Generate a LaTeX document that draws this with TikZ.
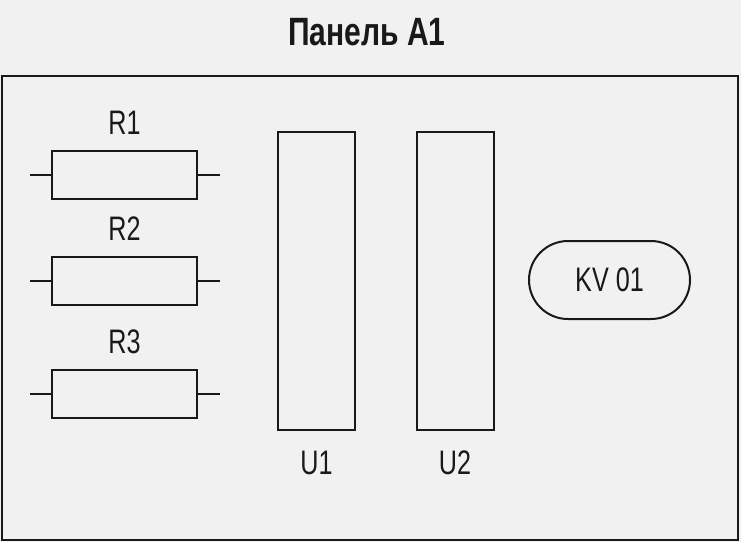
\documentclass[tikz,border=0pt]{standalone}
\usepackage{fontspec}
\setmainfont[FakeStretch=0.74]{Liberation Sans}
\newfontfamily\titlefont[FakeStretch=0.76]{Liberation Sans}
\usetikzlibrary{positioning}

\definecolor{paper}{RGB}{241,241,241}
\definecolor{ink}{RGB}{25,25,25}

\tikzset{
  resbox/.style={draw=ink, line width=2pt, minimum width=145pt, minimum height=48pt, inner sep=0pt},
  unitbox/.style={draw=ink, line width=2pt, minimum width=77pt, minimum height=298pt, inner sep=0pt},
  relay/.style={draw=ink, line width=2pt, rounded corners=39pt, minimum width=161pt, minimum height=78pt, inner sep=0pt},
  lbl/.style={text=ink, inner sep=0pt, font=\fontsize{34}{40}\selectfont},
  lead/.style={draw=ink, line width=2pt}
}

\begin{document}
\begin{tikzpicture}[x=1pt,y=-1pt]
\fill[paper] (0,0) rectangle (741,542);
\useasboundingbox (0,0) rectangle (741,542);

% panel frame and title
\draw[ink, line width=2pt] (2,76) rectangle (738,540);
\node[text=ink, inner sep=0pt, font=\titlefont\bfseries\fontsize{39.5}{46}\selectfont] (title) at (367,32.5) {Панель А1};

% resistors
\foreach \n/\y in {1/175,2/281,3/394}{
  \node[resbox] (r\n) at (124.5,\y) {};
  \coordinate (r\n-a) at ([xshift=-21pt]r\n.west);
  \coordinate (r\n-b) at ([xshift=22pt]r\n.east);
  \draw[lead] (r\n-a) -- (r\n.west);
  \draw[lead] (r\n.east) -- (r\n-b);
  \node[lbl, above=15pt of r\n] (r\n-lbl) {R\n};
}

% units
\node[unitbox] (u1) at (316.5,281) {};
\node[unitbox] (u2) at (455,281) {};
\node[lbl, below=20pt of u1] (u1-lbl) {U1};
\node[lbl, below=20pt of u2] (u2-lbl) {U2};

% relay
\node[relay, lbl] (kv) at (609.5,280) {KV 01};
\end{tikzpicture}
\end{document}
